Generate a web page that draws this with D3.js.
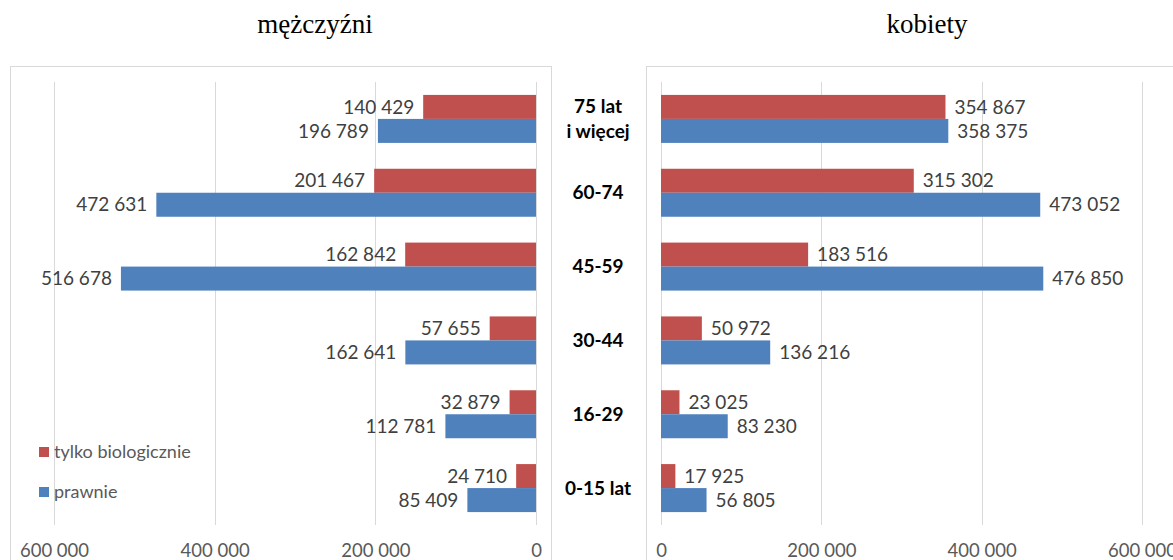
<!DOCTYPE html>
<html lang="pl">
<head>
<meta charset="utf-8">
<script src="https://d3js.org/d3.v7.min.js"></script>
<style>
  body { margin: 0; background: #fff; }
  svg { display: block; }
  .lbl { font: 19px Lato, sans-serif; fill: #404040; }
  .tick text { font: 18.5px Lato, sans-serif; fill: #595959; }
  .cat { font: bold 19px Lato, sans-serif; fill: #000; }
  .title { font: 27px "Liberation Serif", serif; fill: #000; }
</style>
</head>
<body>
<div id="chart"></div>
<script>
var ageGroups = ["75 lat|i więcej", "60-74", "45-59", "30-44", "16-29", "0-15 lat"];
var seriesNames = ["tylko biologicznie", "prawnie"];
var menBio = [140429, 201467, 162842, 57655, 32879, 24710];
var menLegal = [196789, 472631, 516678, 162641, 112781, 85409];
var womenBio = [354867, 315302, 183516, 50972, 23025, 17925];
var womenLegal = [358375, 473052, 476850, 136216, 83230, 56805];
var xTicks = [0, 200000, 400000, 600000];

var W = 1173, H = 560;
var colors = {"tylko biologicznie": "#c0504d", "prawnie": "#4f81bd"};
var fmt = function (v) { return d3.format(",")(v).replace(/,/g, " "); };

var svg = d3.select("#chart").append("svg")
    .attr("width", W).attr("height", H);

// panel frames
svg.append("rect").attr("x", 10.5).attr("y", 66.5).attr("width", 541).attr("height", 520)
    .attr("fill", "none").attr("stroke", "#d9d9d9");
svg.append("rect").attr("x", 646.5).attr("y", 66.5).attr("width", 560).attr("height", 520)
    .attr("fill", "none").attr("stroke", "#d9d9d9");

var y0 = d3.scaleBand().domain(ageGroups).range([82, 525])
    .paddingInner(0.35).paddingOuter(0.175);
var y1 = d3.scaleBand().domain(seriesNames).range([0, y0.bandwidth()]);

var xLeft = d3.scaleLinear().domain([0, 600000]).range([536, 54]);
var xRight = d3.scaleLinear().domain([0, 600000]).range([661, 1142]);

function panel(x, bio, legal, side, title, titleX) {
  var rows = ageGroups.map(function (g, i) {
    return [{g: g, s: seriesNames[0], v: bio[i]}, {g: g, s: seriesNames[1], v: legal[i]}];
  });
  var flat = d3.merge(rows);

  // gridlines
  svg.append("g").selectAll("line").data(xTicks).enter().append("line")
      .attr("x1", function (d) { return Math.round(x(d)) + 0.5; })
      .attr("x2", function (d) { return Math.round(x(d)) + 0.5; })
      .attr("y1", 82).attr("y2", 525)
      .attr("stroke", "#d9d9d9").attr("stroke-width", 1);

  // axis labels
  var axis = svg.append("g").attr("transform", "translate(0,538)")
      .call(d3.axisBottom(x).tickValues(xTicks).tickSize(0).tickPadding(0).tickFormat(fmt));
  axis.select(".domain").remove();
  axis.selectAll("text").attr("dy", "0.32em").attr("y", 13);

  svg.append("g").selectAll("rect").data(flat).enter().append("rect")
      .attr("x", function (d) { return Math.min(x(0), x(d.v)); })
      .attr("y", function (d) { return y0(d.g) + y1(d.s); })
      .attr("width", function (d) { return Math.abs(x(d.v) - x(0)); })
      .attr("height", y1.bandwidth())
      .attr("fill", function (d) { return colors[d.s]; });

  svg.append("g").selectAll("text").data(flat).enter().append("text")
      .attr("class", "lbl")
      .attr("x", function (d) { return x(d.v) + (side === "left" ? -9 : 9); })
      .attr("y", function (d) { return y0(d.g) + y1(d.s) + y1.bandwidth() / 2; })
      .attr("dy", "0.35em")
      .attr("text-anchor", side === "left" ? "end" : "start")
      .text(function (d) { return fmt(d.v); });

  svg.append("text").attr("class", "title")
      .attr("x", titleX).attr("y", 33).attr("text-anchor", "middle").text(title);
}

panel(xLeft, menBio, menLegal, "left", "mężczyźni", 315);
panel(xRight, womenBio, womenLegal, "right", "kobiety", 927);

// category labels in the middle
var cats = svg.append("g").selectAll("text").data(ageGroups).enter().append("text")
    .attr("class", "cat")
    .attr("x", 598)
    .attr("text-anchor", "middle");
cats.each(function (d) {
  var parts = d.split("|");
  var c = y0(d) + y0.bandwidth() / 2;
  var t = d3.select(this);
  parts.forEach(function (p, i) {
    t.append("tspan").attr("x", 598)
        .attr("y", c + (i - (parts.length - 1) / 2) * 25)
        .attr("dy", "0.35em").text(p);
  });
});

// legend
var leg = svg.append("g").selectAll("g").data(seriesNames).enter().append("g")
    .attr("transform", function (d, i) { return "translate(39," + (452 + i * 40) + ")"; });
leg.append("rect").attr("x", 0).attr("y", -5).attr("width", 10).attr("height", 10)
    .attr("fill", function (d) { return colors[d]; });
leg.append("text").attr("class", "lbl").attr("x", 15).attr("dy", "0.35em")
    .style("font-size", "18px").style("fill", "#595959")
    .text(function (d) { return d; });
</script>
</body>
</html>
